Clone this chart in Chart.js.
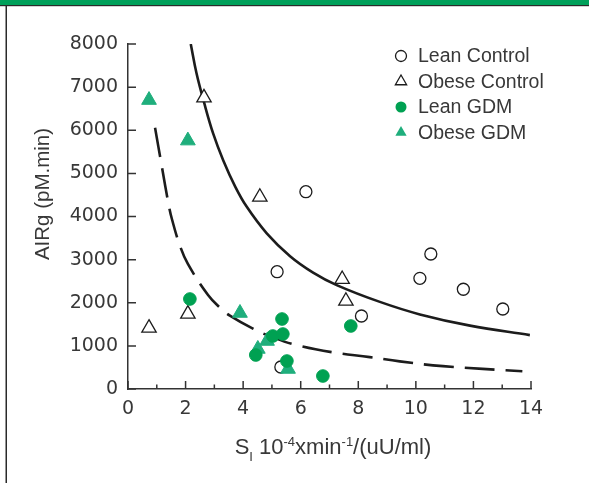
<!DOCTYPE html>
<html>
<head>
<meta charset="utf-8">
<script src="https://cdn.jsdelivr.net/npm/chart.js@4.4.0/dist/chart.umd.min.js"></script>
<style>
  html, body { margin: 0; padding: 0; background: #fff; }
  canvas { display: block; }
</style>
</head>
<body>
<canvas id="chart" width="589" height="483"></canvas>
<script>
// values: SI (x) vs AIRg (y)
var leanControlX = [6.18, 5.18, 10.52, 10.14, 11.65, 13.02, 8.11, 5.31];
var leanControlY = [4575, 2720, 3130, 2566, 2313, 1855, 1693, 510];

var obeseControlX = [2.64, 4.58, 7.44, 0.73, 2.08, 7.57];
var obeseControlY = [6755, 4452, 2544, 1415, 1740, 2040];

var leanGdmX = [2.15, 5.35, 5.03, 5.38, 4.44, 5.52, 6.77, 7.74];
var leanGdmY = [2087, 1623, 1229, 1275, 788, 649, 301, 1461];

var obeseGdmX = [0.73, 2.08, 3.89, 4.83, 4.51, 5.56];
var obeseGdmY = [6700, 5760, 1762, 1113, 928, 464];

// fitted curves
var controlCurveX = [2.18, 2.38, 2.64, 2.96, 3.31, 3.72, 4.12, 4.82, 5.63, 6.43, 7.25, 8.75, 10.14, 11.88, 13.96];
var controlCurveY = [8000, 7320, 6650, 5920, 5300, 4700, 4230, 3610, 3080, 2700, 2410, 2020, 1730, 1470, 1250];

var gdmCurveX = [0.94, 1.17, 1.42, 1.53, 1.8, 2.08, 2.78, 3.19, 3.54, 4.34, 5.1, 5.9, 7.12, 8.4, 9.44, 10.94, 13.7];
var gdmCurveY = [6060, 5180, 4250, 3930, 3330, 2900, 2180, 1890, 1700, 1400, 1180, 1010, 850, 740, 640, 530, 410];

var xTicks = [0, 2, 4, 6, 8, 10, 12, 14];
var yTicks = [0, 1000, 2000, 3000, 4000, 5000, 6000, 7000, 8000];

var legendLabels = ["Lean Control", "Obese Control", "Lean GDM", "Obese GDM"];

var TEXT = "#383838";
var AXIS = "#333333";
var INK = "#1c1c1c";
var GREEN = "#00a152";
var TEAL = "#1fae7c";

function pts(xs, ys) {
  var out = [];
  for (var i = 0; i < xs.length; i++) out.push({x: xs[i], y: ys[i]});
  return out;
}

var decor = {
  id: "decor",
  beforeDraw: function(chart) {
    var ctx = chart.ctx;
    ctx.save();
    ctx.fillStyle = "#fff";
    ctx.fillRect(0, 0, chart.width, chart.height);
    // green band on top, frame line on the left
    ctx.fillStyle = "#00a05a";
    ctx.fillRect(0, 0, chart.width, 5);
    ctx.fillStyle = "#2a2a2a";
    ctx.fillRect(0, 5, chart.width, 1.2);
    ctx.fillRect(5.5, 5, 1.5, chart.height);
    ctx.restore();
  },
  afterDraw: function(chart) {
    var ctx = chart.ctx;
    var xs = chart.scales.x, ys = chart.scales.y;
    var left = xs.left, bottom = ys.bottom;
    ctx.save();
    ctx.strokeStyle = AXIS;
    ctx.lineWidth = 1.5;
    ctx.beginPath();
    // inward ticks on y
    yTicks.forEach(function(v) {
      var py = ys.getPixelForValue(v);
      ctx.moveTo(left, py);
      ctx.lineTo(left + 8, py);
    });
    // inward ticks on x, minor ones at odd values
    for (var v = 0; v <= 14; v++) {
      var px = xs.getPixelForValue(v);
      var len = (v % 2 === 0) ? 8 : 4.5;
      ctx.moveTo(px, bottom);
      ctx.lineTo(px, bottom - len);
    }
    ctx.stroke();

    // y title
    ctx.fillStyle = TEXT;
    ctx.font = '20.5px "Liberation Sans"';
    ctx.textAlign = "center";
    ctx.textBaseline = "middle";
    ctx.save();
    ctx.translate(43, 194);
    ctx.rotate(-Math.PI / 2);
    ctx.fillText("AIRg (pM.min)", 0, 0);
    ctx.restore();

    // x title with sub/superscripts
    var parts = [
      {t: "S", small: false, dy: 0},
      {t: "I", small: true, dy: 7},
      {t: " 10", small: false, dy: 0},
      {t: "-4", small: true, dy: -8},
      {t: "xmin", small: false, dy: 0},
      {t: "-1", small: true, dy: -8},
      {t: "/(uU/ml)", small: false, dy: 0}
    ];
    var big = '22px "Liberation Sans"', sm = '13px "Liberation Sans"';
    var total = 0;
    parts.forEach(function(p) {
      ctx.font = p.small ? sm : big;
      p.w = ctx.measureText(p.t).width;
      total += p.w;
    });
    var x = 333 - total / 2, base = 454;
    ctx.textAlign = "left";
    ctx.textBaseline = "alphabetic";
    parts.forEach(function(p) {
      ctx.font = p.small ? sm : big;
      ctx.fillText(p.t, x, base + p.dy);
      x += p.w;
    });

    // legend
    var rowY = [56, 81.5, 107, 132.5];
    var mx = 401, tx = 418;
    ctx.font = '19.5px "Liberation Sans"';
    ctx.textBaseline = "middle";
    legendLabels.forEach(function(label, i) {
      var y = rowY[i];
      ctx.beginPath();
      if (i === 0 || i === 2) {
        ctx.arc(mx, y, 5.5, 0, Math.PI * 2);
      } else {
        var r = 6.5;
        ctx.moveTo(mx, y - r);
        ctx.lineTo(mx + r * 0.866, y + r * 0.5);
        ctx.lineTo(mx - r * 0.866, y + r * 0.5);
        ctx.closePath();
      }
      if (i < 2) {
        ctx.fillStyle = "#fff";
        ctx.fill();
        ctx.strokeStyle = INK;
        ctx.lineWidth = 1.3;
        ctx.stroke();
      } else {
        ctx.fillStyle = i === 2 ? GREEN : TEAL;
        ctx.fill();
      }
      ctx.fillStyle = TEXT;
      ctx.fillText(label, tx, y + 1);
    });
    ctx.restore();
  }
};

var ctx = document.getElementById("chart").getContext("2d");
var chart = new Chart(ctx, {
  type: "scatter",
  data: {
    datasets: [
      {
        label: "Lean GDM", data: pts(leanGdmX, leanGdmY), order: 1,
        pointStyle: "circle", pointRadius: 6.3,
        backgroundColor: GREEN, borderColor: GREEN, borderWidth: 1
      },
      {
        label: "Obese GDM", data: pts(obeseGdmX, obeseGdmY), order: 1,
        pointStyle: "triangle", pointRadius: 8.5,
        backgroundColor: TEAL, borderColor: TEAL, borderWidth: 1
      },
      {
        label: "Lean Control", data: pts(leanControlX, leanControlY), order: 2,
        pointStyle: "circle", pointRadius: 6,
        backgroundColor: "#fff", borderColor: INK, borderWidth: 1.3
      },
      {
        label: "Obese Control", data: pts(obeseControlX, obeseControlY), order: 2,
        pointStyle: "triangle", pointRadius: 8.3,
        backgroundColor: "#fff", borderColor: INK, borderWidth: 1.3
      },
      {
        label: "control fit", data: pts(controlCurveX, controlCurveY), order: 3,
        showLine: true, pointRadius: 0, borderColor: INK, borderWidth: 2.6,
        tension: 0.4, fill: false
      },
      {
        label: "gdm fit", data: pts(gdmCurveX, gdmCurveY), order: 3,
        showLine: true, pointRadius: 0, borderColor: INK, borderWidth: 2.6,
        borderDash: [30, 11], tension: 0.4, fill: false
      }
    ]
  },
  options: {
    responsive: false,
    animation: false,
    devicePixelRatio: 1,
    layout: { padding: { top: 44, right: 58, left: 0, bottom: 0 } },
    plugins: { legend: { display: false }, tooltip: { enabled: false } },
    scales: {
      x: {
        type: "linear", min: 0, max: 14,
        grid: { display: false, drawTicks: false },
        border: { display: true, color: AXIS, width: 1.5 },
        ticks: {
          stepSize: 2, autoSkip: false, maxRotation: 0, padding: 9,
          color: TEXT, font: { family: "DejaVu Sans", size: 19 },
          callback: function(v) { return String(v); }
        },
        afterFit: function(s) { s.height = 94; }
      },
      y: {
        type: "linear", min: 0, max: 8000,
        grid: { display: false, drawTicks: false },
        border: { display: true, color: AXIS, width: 1.5 },
        ticks: {
          stepSize: 1000, autoSkip: false, padding: 10,
          color: TEXT, font: { family: "DejaVu Sans", size: 19 },
          callback: function(v) { return String(v); }
        },
        afterFit: function(s) { s.width = 128; }
      }
    }
  },
  plugins: [decor]
});
</script>
</body>
</html>
